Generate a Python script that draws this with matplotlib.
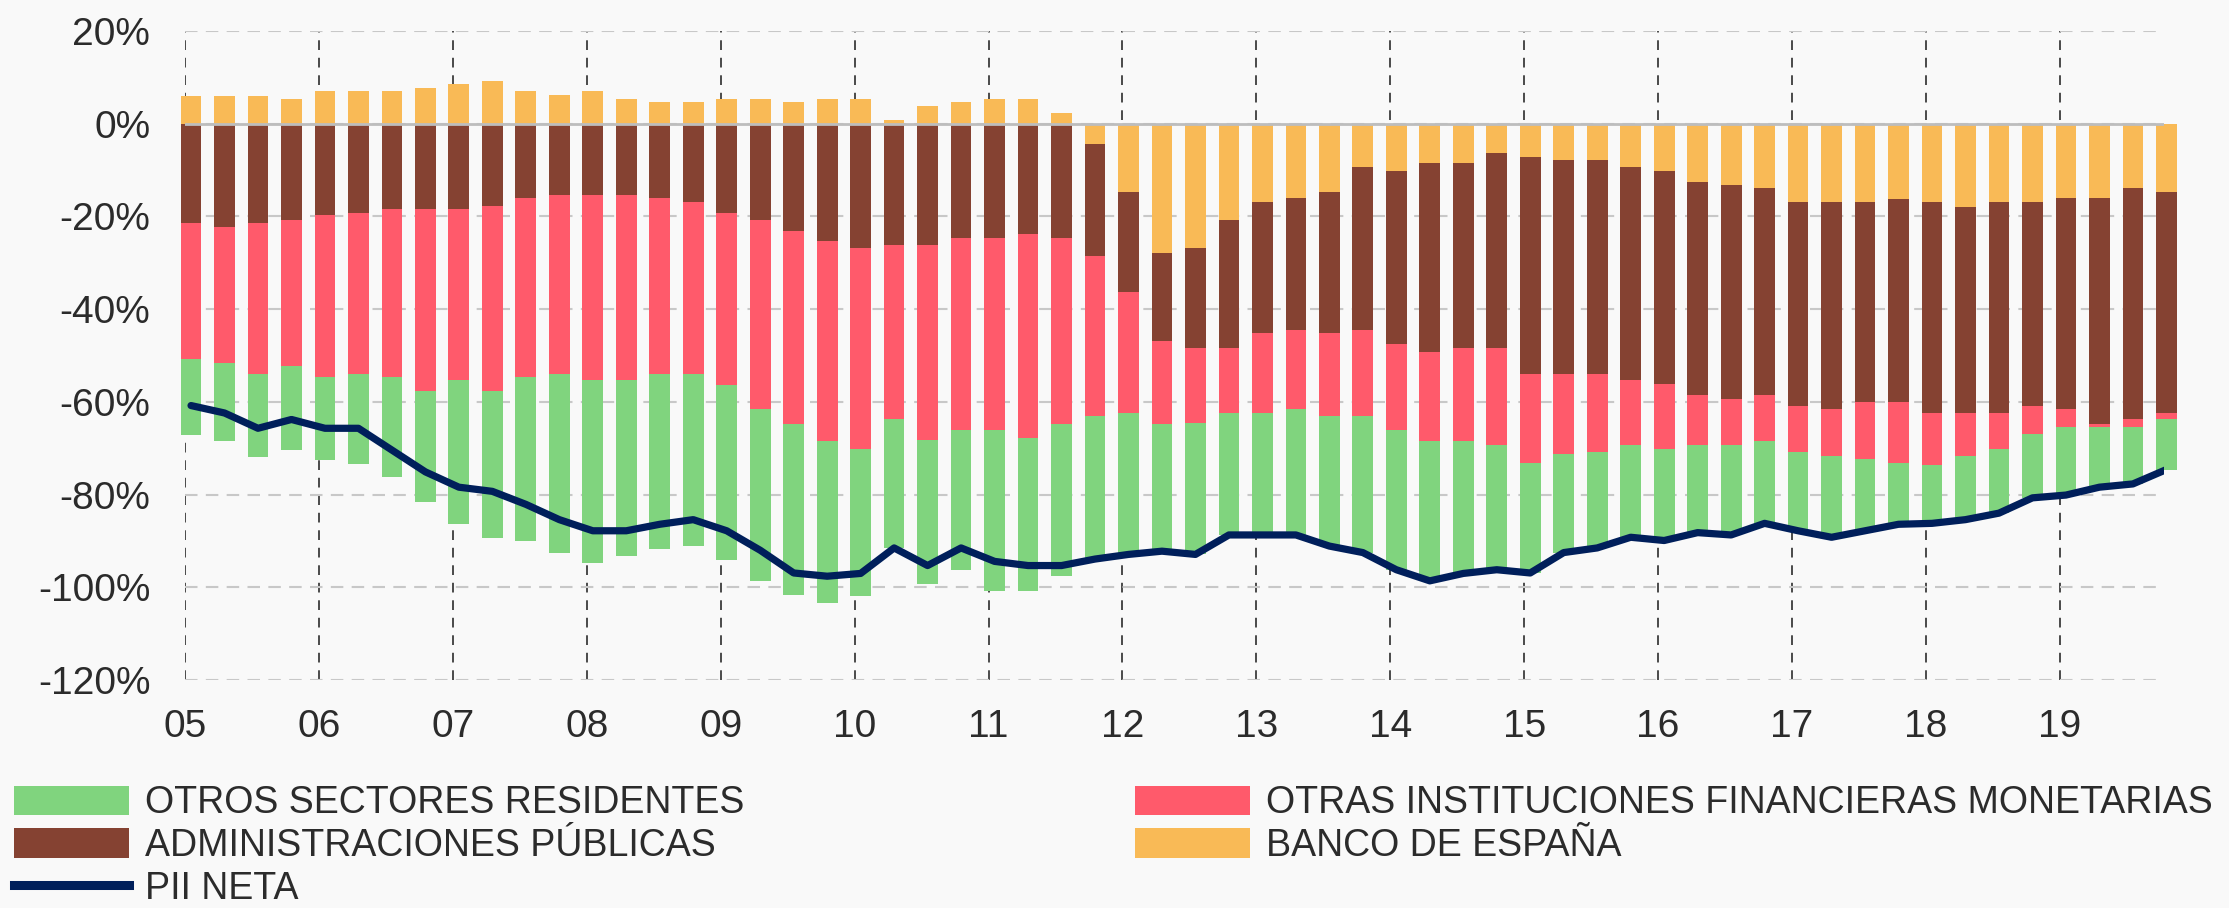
import numpy as np
import matplotlib
matplotlib.use('Agg')
import matplotlib.pyplot as plt
from matplotlib.patches import Patch
from matplotlib.lines import Line2D

plt.rcParams['font.family'] = ['Liberation Sans', 'DejaVu Sans']

# quarterly data, 2005Q1 - 2019Q4, % of GDP
years = list(range(2005, 2020))
year_labels = ['%02d' % (y % 100) for y in years]

bde = [6.0, 6.0, 6.0, 5.4, 7.0, 7.0, 7.0, 7.7, 8.5, 9.1, 7.0, 6.2, 7.0, 5.4, 4.7,
       4.6, 5.4, 5.4, 4.6, 5.4, 5.4, 0.7, 3.7, 4.6, 5.4, 5.4, 2.3, -4.5, -14.7, -27.8,
       -26.8, -20.8, -17.0, -16.1, -14.7, -9.4, -10.2, -8.6, -8.6, -6.4, -7.1, -7.8, -7.8, -9.4, -10.2,
       -12.5, -13.2, -13.9, -17.0, -17.0, -17.0, -16.3, -17.0, -17.9, -17.0, -17.0, -16.1, -16.1, -13.9, -14.7]
aapp = [-21.4, -22.4, -21.4, -20.8, -19.8, -19.3, -18.4, -18.4, -18.4, -17.7, -16.1, -15.3, -15.3, -15.3, -16.1,
        -16.9, -19.3, -20.8, -23.1, -25.4, -26.9, -26.2, -26.2, -24.6, -24.6, -23.8, -24.6, -24.0, -21.6, -19.0,
        -21.5, -27.5, -28.2, -28.4, -30.5, -35.1, -37.3, -40.6, -39.8, -42.0, -46.8, -46.1, -46.1, -45.9, -45.9,
        -46.1, -46.2, -44.7, -43.8, -44.6, -43.0, -43.7, -45.4, -44.5, -45.4, -43.8, -45.5, -48.6, -49.9, -47.7]
oifm = [-29.4, -29.2, -32.5, -31.5, -34.9, -34.6, -36.3, -39.3, -36.9, -40.0, -38.6, -38.6, -40.0, -40.0, -37.8,
        -37.0, -37.0, -40.8, -41.6, -43.1, -43.2, -37.6, -42.1, -41.5, -41.5, -43.9, -40.1, -34.5, -26.1, -17.9,
        -16.2, -14.1, -17.2, -17.1, -17.9, -18.6, -18.6, -19.3, -20.1, -20.8, -19.3, -17.4, -16.9, -13.9, -14.0,
        -10.6, -9.8, -9.9, -10.0, -10.0, -12.3, -13.2, -11.2, -9.2, -7.7, -6.1, -3.8, -0.7, -1.6, -1.4]
osr = [-16.3, -16.9, -17.9, -18.1, -17.8, -19.5, -21.6, -24.0, -31.1, -31.7, -35.4, -38.6, -39.5, -37.9, -37.9,
       -37.2, -37.9, -37.0, -37.0, -34.8, -31.8, -27.7, -31.0, -30.1, -34.6, -33.0, -32.9, -30.9, -30.5, -27.5,
       -28.4, -26.3, -26.3, -27.1, -28.0, -29.4, -30.1, -30.1, -28.5, -27.0, -23.7, -21.2, -20.7, -20.0, -19.8,
       -19.0, -19.5, -17.7, -17.0, -17.6, -15.5, -13.2, -12.6, -13.8, -13.9, -13.8, -14.7, -13.0, -12.3, -10.8]
pii = [-60.8, -62.4, -65.7, -63.8, -65.7, -65.7, -70.4, -75.1, -78.4, -79.3, -82.1, -85.4, -87.8, -87.8, -86.4,
       -85.4, -87.8, -92.0, -96.9, -97.6, -97.0, -91.5, -95.3, -91.5, -94.4, -95.3, -95.3, -93.9, -92.9, -92.2,
       -92.9, -88.7, -88.7, -88.7, -91.1, -92.5, -96.2, -98.6, -97.0, -96.2, -96.9, -92.5, -91.5, -89.2, -89.9,
       -88.2, -88.7, -86.2, -87.8, -89.2, -87.8, -86.4, -86.2, -85.4, -84.0, -80.7, -80.1, -78.4, -77.7, -74.6]

labels = ['OTROS SECTORES RESIDENTES', 'OTRAS INSTITUCIONES FINANCIERAS MONETARIAS',
          'ADMINISTRACIONES PÚBLICAS', 'BANCO DE ESPAÑA', 'PII NETA']
c_osr, c_oifm, c_aapp, c_bde, c_pii = '#80D47E', '#FF5A6B', '#854232', '#F9BA56', '#001F5B'
bg = '#F9F9F9'
txt = '#2B2B2B'

n = len(pii)
x = 2005 + 0.25 * np.arange(n) + 0.045

fig = plt.figure(figsize=(22.29, 9.08), dpi=100, facecolor=bg)
ax = fig.add_axes([0.083, 0.251, 0.888, 0.715])
ax.set_facecolor(bg)

# stack: positives up from 0, negatives down from 0
pos = np.zeros(n)
neg = np.zeros(n)
for vals, col in [(bde, c_bde), (aapp, c_aapp), (oifm, c_oifm), (osr, c_osr)]:
    v = np.array(vals)
    bottom = np.where(v >= 0, pos, neg)
    ax.bar(x, v, 0.155, bottom=bottom, color=col, zorder=2, clip_on=False, linewidth=0)
    pos = pos + np.where(v >= 0, v, 0)
    neg = neg + np.where(v < 0, v, 0)

ax.axhline(0, color='#BDBDBD', lw=2, zorder=3)
ax.plot(x, pii, color=c_pii, lw=5.2, zorder=4, solid_joinstyle='round', solid_capstyle='round')

ax.set_xlim(2005, 2019.78)
ax.set_ylim(-120, 20)
ax.set_xticks(years)
ax.set_xticklabels(year_labels)
yt = list(range(-120, 21, 20))
ax.set_yticks(yt)
ax.set_yticklabels(['%d%%' % t for t in yt])
ax.tick_params(length=0, labelsize=28, colors=txt)
ax.tick_params(axis='y', pad=25)
ax.tick_params(axis='x', pad=21)
for s in ax.spines.values():
    s.set_visible(False)
ax.set_axisbelow(True)
ax.yaxis.grid(True, color='#C8C8C8', lw=1.5, linestyle=(0, (6, 4)))
ax.xaxis.grid(True, color='#4A4A4A', lw=1.4, linestyle=(0, (5, 4)))

h = {
    labels[0]: Patch(facecolor=c_osr),
    labels[1]: Patch(facecolor=c_oifm),
    labels[2]: Patch(facecolor=c_aapp),
    labels[3]: Patch(facecolor=c_bde),
    labels[4]: Line2D([], [], color=c_pii, lw=6.5),
}
kw = dict(frameon=False, fontsize=27, handlelength=3.07, handleheight=0.83,
          handletextpad=0.43, labelspacing=0.18, borderaxespad=0, borderpad=0,
          labelcolor=txt, loc='upper left')
left_labels = [labels[0], labels[2], labels[4]]
right_labels = [labels[1], labels[3]]
fig.legend([h[l] for l in left_labels], left_labels, bbox_to_anchor=(0.0063, 0.1352), **kw)
fig.legend([h[l] for l in right_labels], right_labels, bbox_to_anchor=(0.509, 0.1352), **kw)

fig.savefig('out.png', dpi=100, facecolor=bg)
